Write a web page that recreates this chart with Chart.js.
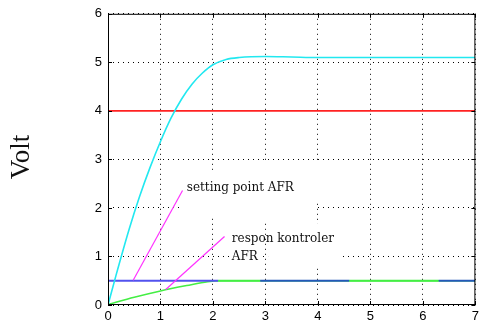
<!DOCTYPE html>
<html>
<head>
<meta charset="utf-8">
<script src="https://cdn.jsdelivr.net/npm/chart.js@4"></script>
<style>
  html, body { margin: 0; padding: 0; background: #fff; }
  #wrap { width: 483px; height: 327px; }
</style>
</head>
<body>
<div id="wrap"><canvas id="chart" width="483" height="327"></canvas></div>
<script>
// values
const xTicks = [0, 1, 2, 3, 4, 5, 6, 7]
const yTicks = [0, 1, 2, 3, 4, 5, 6]

const outX = [0, 0.15, 0.4, 0.6, 0.8, 1.0, 1.2, 1.4, 1.6, 1.8, 2.0, 2.25, 2.5, 3.0, 3.5, 4, 5, 6, 7]
const outY = [0, 0.6, 1.55, 2.23, 2.83, 3.37, 3.85, 4.24, 4.55, 4.78, 4.95, 5.06, 5.1, 5.12, 5.11, 5.10, 5.10, 5.10, 5.10]

const limitX = [0, 7]
const limitY = [4, 4]

const setX = [0, 2.1, 2.9, 4.6, 6.3, 7]
const setY = [0.5, 0.5, 0.5, 0.5, 0.5, 0.5]

const respX = [0, 0.5, 1, 1.5, 1.9, 2.15, 7]
const respY = [0.01, 0.16, 0.29, 0.40, 0.48, 0.5, 0.5]

const arrow1X = [0.48, 1.42]
const arrow1Y = [0.51, 2.36]
const arrow2X = [1.1, 2.22]
const arrow2Y = [0.32, 1.41]

const labels = [
  {text: 'setting point AFR', x: 1.5, y: 2.42},
  {text: 'respon kontroler', x: 2.36, y: 1.37},
  {text: 'AFR', x: 2.36, y: 1.0}
]

// white patches that hide the grid behind the labels
const masks = [
  {x0: 1.41, x1: 2.5, y0: 1.84, y1: 2.76},
  {x0: 2.5, x1: 3.97, y0: 1.75, y1: 2.97},
  {x0: 3.97, x1: 4.08, y0: 2.15, y1: 2.97},
  {x0: 2.33, x1: 2.95, y0: 0.93, y1: 1.07},
  {x0: 3.05, x1: 4.44, y0: 0.76, y1: 1.68}
]

const pts = (xs, ys) => xs.map((x, i) => ({x, y: ys[i]}))

const setColors = ['#5252ee', '#44ee44', '#2458b8', '#44ee44', '#2458b8']

const extras = {
  id: 'extras',
  beforeDatasetsDraw(chart){
    const {ctx, scales: {x, y}} = chart
    ctx.save()
    ctx.fillStyle = '#fff'
    masks.forEach(m => {
      const l = x.getPixelForValue(m.x0), r = x.getPixelForValue(m.x1)
      const t = y.getPixelForValue(m.y1), b = y.getPixelForValue(m.y0)
      ctx.fillRect(l, t, r - l, b - t)
    })
    ctx.restore()
  },
  afterDatasetsDraw(chart){
    const {ctx, chartArea: a, scales: {x, y}} = chart
    ctx.save()
    // box and inward ticks
    ctx.strokeStyle = '#000'
    ctx.lineWidth = 1
    ctx.strokeRect(a.left + 0.5, a.top + 0.5, a.right - a.left - 1, a.bottom - a.top - 1)
    ctx.beginPath()
    xTicks.forEach(v => {
      const px = Math.round(x.getPixelForValue(v)) + 0.5
      ctx.moveTo(px, a.bottom); ctx.lineTo(px, a.bottom - 4)
      ctx.moveTo(px, a.top); ctx.lineTo(px, a.top + 4)
    })
    yTicks.forEach(v => {
      const py = Math.round(y.getPixelForValue(v)) + 0.5
      ctx.moveTo(a.left, py); ctx.lineTo(a.left + 4, py)
      ctx.moveTo(a.right, py); ctx.lineTo(a.right - 4, py)
    })
    ctx.stroke()

    // annotations
    ctx.fillStyle = '#111'
    ctx.font = '12px "DejaVu Serif"'
    ctx.textBaseline = 'middle'
    ctx.textAlign = 'left'
    labels.forEach(l => {
      ctx.fillText(l.text, x.getPixelForValue(l.x), y.getPixelForValue(l.y))
    })

    // y axis title
    ctx.font = '27px "Liberation Serif"'
    ctx.textAlign = 'center'
    ctx.translate(22, 157)
    ctx.rotate(-Math.PI / 2)
    ctx.fillText('Volt', 0, 0)
    ctx.restore()
  }
}

const ctx = document.getElementById('chart').getContext('2d')
new Chart(ctx, {
  type: 'line',
  data: {
    datasets: [
      {data: pts(outX, outY), borderColor: '#22e8f0', borderWidth: 1.6, cubicInterpolationMode: 'monotone', order: 1},
      {data: pts(limitX, limitY), borderColor: '#ff2222', borderWidth: 1.6, order: 2},
      {data: pts(setX, setY), borderColor: '#5252ee', borderWidth: 2, order: 3,
        segment: {borderColor: c => setColors[c.p0DataIndex]}},
      {data: pts(respX, respY), borderColor: '#44ee44', borderWidth: 1.6, cubicInterpolationMode: 'monotone', order: 4},
      {data: pts(arrow1X, arrow1Y), borderColor: '#ff33ff', borderWidth: 1.2, order: 0},
      {data: pts(arrow2X, arrow2Y), borderColor: '#ff33ff', borderWidth: 1.2, order: 0}
    ]
  },
  options: {
    responsive: false,
    animation: false,
    parsing: false,
    layout: {padding: {top: 12, right: 3, left: 0, bottom: 0}},
    elements: {point: {radius: 0}, line: {tension: 0}},
    plugins: {legend: {display: false}, tooltip: {enabled: false}},
    scales: {
      x: {
        type: 'linear', min: 0, max: 7,
        afterFit: s => { s.height = 22 },
        afterBuildTicks: s => { s.ticks = xTicks.map(v => ({value: v})) },
        grid: {color: '#000', lineWidth: 1, drawTicks: false},
        border: {display: false, dash: [1, 4]},
        ticks: {color: '#000', padding: 4, font: {family: '"Liberation Sans"', size: 13}}
      },
      y: {
        min: 0, max: 6,
        afterFit: s => { s.width = 108 },
        afterBuildTicks: s => { s.ticks = yTicks.map(v => ({value: v})) },
        grid: {color: '#000', lineWidth: 1, drawTicks: false},
        border: {display: false, dash: [1, 4]},
        ticks: {color: '#000', padding: 6, font: {family: '"Liberation Sans"', size: 13}}
      }
    }
  },
  plugins: [extras]
})
</script>
</body>
</html>
